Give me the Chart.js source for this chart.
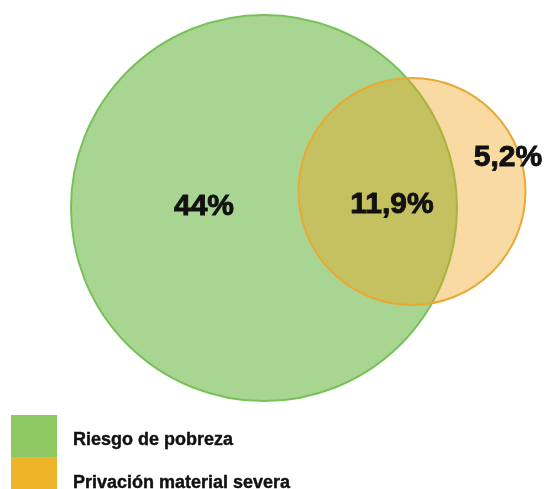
<!DOCTYPE html>
<html>
<head>
<meta charset="utf-8">
<script src="https://cdn.jsdelivr.net/npm/chart.js@4/dist/chart.umd.min.js"></script>
<style>
  html, body { margin: 0; padding: 0; background: #fff; }
  #wrap { position: relative; width: 547px; height: 489px; overflow: hidden; }
  #venn { position: absolute; left: 0; top: 0; }
  .key { position: absolute; left: 11px; width: 46px; }
  .key-label { position: absolute; left: 73px; font: bold 18px 'Liberation Sans', Arial, sans-serif; color: #111; line-height: 1; -webkit-text-stroke: 0.4px #111; }
</style>
</head>
<body>
<div id="wrap">
  <canvas id="venn" width="547" height="489"></canvas>
  <div class="key" style="top:415px;height:42px;background:#8dc862"></div>
  <div class="key" style="top:457px;height:40px;background:#eeb52a"></div>
  <div class="key-label" style="top:430px">Riesgo de pobreza</div>
  <div class="key-label" style="top:473px">Privación material severa</div>
</div>
<script>
// sets (canvas units)
const sets     = ['Riesgo de pobreza', 'Privación material severa'];
const centersX = [264, 412];
const centersY = [208, 191.5];
const radii    = [193, 113.5];

// region labels
const regionText = ['44%', '11,9%', '5,2%'];
const regionX    = [204, 392, 508];
const regionY    = [207, 205, 158];

const FILL   = ['#a9d592', 'rgba(240,162,22,0.4)'];
const BORDER = ['#78c058', '#e8a935'];

// radius through the x scale so it stays in data units
const pxRadius = ctx => {
  const s = ctx.chart.scales.x;
  return Math.abs(s.getPixelForValue(ctx.raw.r) - s.getPixelForValue(0));
};

const labelPlugin = {
  id: 'regionLabels',
  afterDatasetsDraw(chart) {
    const { ctx, scales: { x, y } } = chart;
    ctx.save();
    ctx.font = "bold 30px 'Liberation Sans', Arial, sans-serif";
    ctx.fillStyle = '#111';
    ctx.strokeStyle = '#111';
    ctx.lineWidth = 0.9;
    ctx.textAlign = 'center';
    ctx.textBaseline = 'middle';
    regionText.forEach((t, i) => {
      const px = x.getPixelForValue(regionX[i]), py = y.getPixelForValue(regionY[i]);
      ctx.fillText(t, px, py);
      ctx.strokeText(t, px, py);
    });
    ctx.restore();
  },
};

new Chart(document.getElementById('venn'), {
  type: 'bubble',
  plugins: [labelPlugin],
  data: {
    datasets: sets.map((name, i) => ({
      label: name,
      data: [{ x: centersX[i], y: centersY[i], r: radii[i] }],
      backgroundColor: FILL[i],
      borderColor: BORDER[i],
      borderWidth: 2,
      radius: pxRadius,
      hoverRadius: 0,
      clip: false,
      order: sets.length - i, // second set drawn on top
    })),
  },
  options: {
    responsive: false,
    animation: false,
    events: [],
    layout: { padding: 0, autoPadding: false },
    plugins: { legend: { display: false }, tooltip: { enabled: false } },
    scales: {
      x: { type: 'linear', min: 0, max: 547, display: false },
      y: { type: 'linear', min: 0, max: 489, reverse: true, display: false },
    },
  },
});
</script>
</body>
</html>
